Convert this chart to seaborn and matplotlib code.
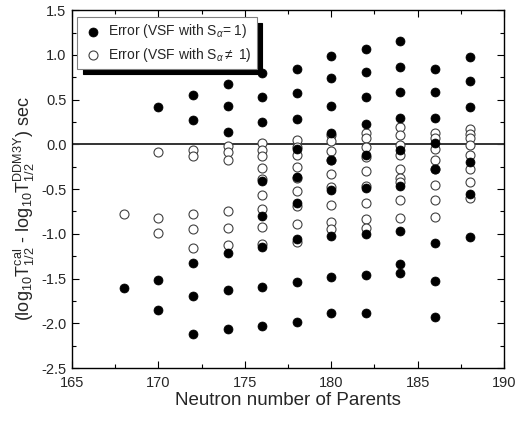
import matplotlib
matplotlib.use("Agg")
import matplotlib.pyplot as plt
import seaborn as sns
import pandas as pd
from matplotlib.ticker import MultipleLocator

# ---- data ----
filled_N = ([168] + [170]*3 + [172]*5 + [174]*6 + [176]*8 + [178]*9 + [180]*9 +
            [182]*9 + [184]*9 + [186]*8 + [188]*6)
filled_err = [-1.61,
              0.42, -1.52, -1.85,
              0.55, 0.27, -1.33, -1.69, -2.12,
              0.67, 0.43, 0.14, -1.21, -1.63, -2.06,
              0.80, 0.53, 0.25, -0.41, -0.80, -1.15, -1.59, -2.03,
              0.84, 0.57, 0.28, -0.05, -0.36, -0.65, -1.06, -1.54, -1.99,
              0.99, 0.74, 0.43, 0.13, -0.18, -0.51, -1.03, -1.48, -1.89,
              1.07, 0.81, 0.53, 0.23, -0.12, -0.49, -1.00, -1.46, -1.88,
              1.16, 0.87, 0.58, 0.29, -0.06, -0.46, -0.97, -1.34, -1.44,
              0.84, 0.58, 0.30, 0.01, -0.28, -1.10, -1.53, -1.93,
              0.98, 0.71, 0.42, -0.20, -0.55, -1.04]

open_N = ([168] + [170]*3 + [172]*5 + [174]*6 + [176]*9 + [178]*9 + [180]*9 +
          [182]*9 + [184]*9 + [186]*8 + [188]*8)
open_err = [-0.78,
            -0.08, -0.82, -0.99,
            -0.06, -0.13, -0.78, -0.95, -1.16,
            -0.02, -0.09, -0.18, -0.75, -0.94, -1.13,
            0.02, -0.06, -0.13, -0.26, -0.39, -0.57, -0.72, -0.92, -1.11,
            0.05, -0.03, -0.12, -0.25, -0.38, -0.52, -0.69, -0.89, -1.09,
            0.10, 0.04, -0.07, -0.17, -0.33, -0.48, -0.68, -0.87, -0.95,
            0.13, 0.07, -0.03, -0.14, -0.30, -0.46, -0.65, -0.84, -0.93,
            0.19, 0.10, -0.01, -0.12, -0.28, -0.38, -0.42, -0.62, -0.82,
            0.13, 0.07, -0.05, -0.17, -0.27, -0.45, -0.62, -0.81,
            0.17, 0.12, 0.07, -0.01, -0.12, -0.27, -0.42, -0.60]

label_filled = r"Error (VSF with S$_\alpha$= 1)"
label_open = r"Error (VSF with S$_\alpha$$\neq$ 1)"

# ---- style ----
sns.set_theme(style="ticks")
plt.rcParams["font.family"] = ["Liberation Sans", "DejaVu Sans"]
plt.rcParams["mathtext.fontset"] = "custom"
plt.rcParams["mathtext.rm"] = "Liberation Sans"
plt.rcParams["mathtext.it"] = "Liberation Sans:italic"
plt.rcParams["mathtext.bf"] = "Liberation Sans:bold"

fig = plt.figure(figsize=(5.16, 4.23), dpi=100)
ax = fig.add_axes([0.1395, 0.130, 0.8375, 0.846])

df_f = pd.DataFrame({"N": filled_N, "err": filled_err})
df_o = pd.DataFrame({"N": open_N, "err": open_err})

ax.axhline(0, color="#333333", lw=1.4, zorder=1)

sns.scatterplot(data=df_o, x="N", y="err", ax=ax, marker="o", s=42,
                facecolor="white", edgecolor="#404040", linewidth=0.8,
                label=label_open, zorder=2)
sns.scatterplot(data=df_f, x="N", y="err", ax=ax, marker="o", s=42,
                color="black", edgecolor="black", linewidth=0.5,
                label=label_filled, zorder=3)

ax.set_xlim(165, 190)
ax.set_ylim(-2.5, 1.5)
ax.xaxis.set_major_locator(MultipleLocator(5))
ax.xaxis.set_minor_locator(MultipleLocator(2.5))
ax.yaxis.set_major_locator(MultipleLocator(0.5))
ax.yaxis.set_minor_locator(MultipleLocator(0.25))
ax.yaxis.set_major_formatter(matplotlib.ticker.FormatStrFormatter("%.1f"))
ax.tick_params(which="both", direction="in", top=True, right=True,
               color="black", labelsize=10.5)
ax.tick_params(axis="x", which="both", pad=6)
ax.tick_params(axis="y", which="both", pad=4)
ax.tick_params(which="major", length=5, width=0.8)
ax.tick_params(which="minor", length=3, width=0.8)
for sp in ax.spines.values():
    sp.set_color("black")
    sp.set_linewidth(1.0)

ax.set_xlabel("Neutron number of Parents", fontsize=13.5)
ax.xaxis.set_label_coords(0.5, -0.068)
ax.set_ylabel(r"(log$_{10}$T$^{\mathrm{cal}}_{1/2}$ - log$_{10}$T$^{\mathrm{DDM3Y}}_{1/2}$) sec",
              fontsize=13)
ax.yaxis.set_label_coords(-0.08, 0.445)

handles, labels = ax.get_legend_handles_labels()
order = [labels.index(label_filled), labels.index(label_open)]
leg = ax.legend([handles[i] for i in order], [labels[i] for i in order],
                loc="upper left", bbox_to_anchor=(0.012, 0.98),
                fontsize=10, frameon=True, fancybox=False,
                shadow={"color": "black", "alpha": 1, "ox": 4, "oy": -4},
                edgecolor="#808080", framealpha=1, borderpad=0.35,
                handletextpad=0.3, handlelength=1.6, labelspacing=0.4,
                borderaxespad=0)
leg.get_frame().set_linewidth(0.8)

fig.savefig("out.png", dpi=100)
